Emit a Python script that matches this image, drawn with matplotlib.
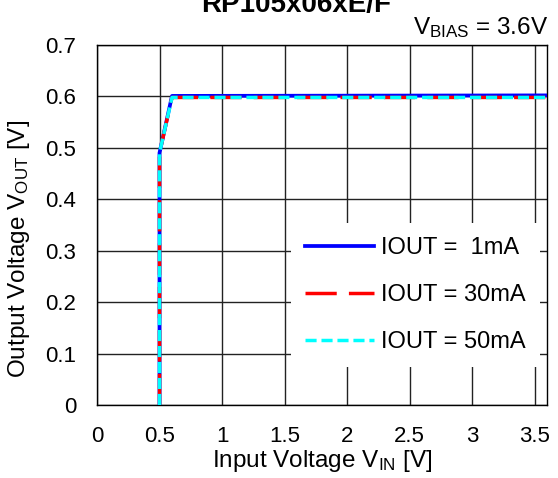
import matplotlib
matplotlib.use("Agg")
import matplotlib.pyplot as plt

plt.rcParams['font.family'] = ['Liberation Sans', 'DejaVu Sans']
plt.rcParams['mathtext.fontset'] = 'custom'
plt.rcParams['mathtext.rm'] = 'Liberation Sans'
plt.rcParams['mathtext.it'] = 'Liberation Sans'

# Data
vin_1ma = [0.5, 0.5, 0.6, 3.6]
vout_1ma = [0.0, 0.49, 0.601, 0.602]
vin_30ma = [0.5, 0.5, 0.6, 3.6]
vout_30ma = [0.0, 0.49, 0.598, 0.598]
vin_50ma = [0.5, 0.5, 0.6, 3.6]
vout_50ma = [0.0, 0.49, 0.598, 0.598]

labels = ["IOUT =  1mA", "IOUT = 30mA", "IOUT = 50mA"]
x_ticks = [0, 0.5, 1, 1.5, 2, 2.5, 3, 3.5]
x_tick_labels = ["0", "0.5", "1", "1.5", "2", "2.5", "3", "3.5"]
y_ticks = [0, 0.1, 0.2, 0.3, 0.4, 0.5, 0.6, 0.7]
y_tick_labels = ["0", "0.1", "0.2", "0.3", "0.4", "0.5", "0.6", "0.7"]

FS = 16
LFS = 17.5

fig = plt.figure(figsize=(5.58, 4.78), dpi=100)
ax = fig.add_axes([97/558, 1 - 405/478, (547 - 97)/558, (405 - 45)/478])

ax.plot(vin_1ma, vout_1ma, color="#0000ff", lw=2.7, label=labels[0], zorder=3)
ax.plot(vin_30ma, vout_30ma, color="#ff0000", lw=2.5, dashes=(9, 3.5), label=labels[1], zorder=4)
ax.plot(vin_50ma, vout_50ma, color="#00ffff", lw=2.5, dashes=(3.2, 1.4), label=labels[2], zorder=5)

ax.set_xlim(0, 3.6)
ax.set_ylim(0, 0.7)
ax.set_xticks(x_ticks)
ax.set_xticklabels(x_tick_labels)
ax.set_yticks(y_ticks)
ax.set_yticklabels(y_tick_labels)
ax.tick_params(length=0, labelsize=FS, pad=15)
ax.grid(True, color="#222222", lw=1)
for s in ax.spines.values():
    s.set_color("black")
    s.set_linewidth(1)

ax.set_xlabel("Input Voltage V$_{\\rm IN}$ [V]", fontsize=LFS, labelpad=1)
ax.set_ylabel("Output Voltage V$_{\\rm OUT}$ [V]", fontsize=LFS)
ax.yaxis.set_label_coords(-0.145, 0.433)

leg = ax.legend(loc="lower right", bbox_to_anchor=(0.985, 0.105), fontsize=17,
                handlelength=2.95, handletextpad=0.3, labelspacing=1.05,
                borderpad=0.6, borderaxespad=0, fancybox=False)
leg.get_frame().set_facecolor("white")
leg.get_frame().set_edgecolor("none")
leg.get_frame().set_alpha(1)
leg.set_zorder(10)

fig.text(296/558, 1 - 12/478, "RP105x06xE/F", ha="center", va="baseline",
         fontsize=20, fontweight="bold")
fig.text(548/558, 1 - 34/478, "V$_{\\rm BIAS}$ = 3.6V", ha="right", va="baseline",
         fontsize=LFS)

fig.savefig("out.png", dpi=100)
